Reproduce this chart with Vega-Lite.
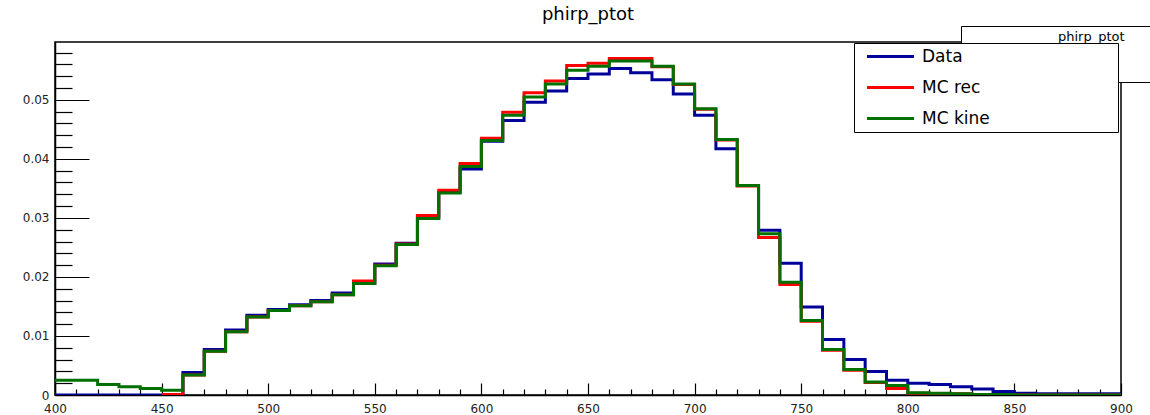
{
  "$schema": "https://vega.github.io/schema/vega-lite/v6.json",
  "width": 1066,
  "height": 353,
  "autosize": {"type": "none"},
  "padding": {"left": 55, "top": 42, "right": 29, "bottom": 20},
  "background": "white",
  "title": {"text": "phirp_ptot", "font": "DejaVu Sans", "fontSize": 18, "fontWeight": "normal", "color": "#000", "anchor": "middle", "offset": 2, "frame": "group"},
  "config": {"view": {"stroke": "#000", "strokeWidth": 1.5}},
  "data": {"values": [
    {"s":"Data","x":400,"y":0},{"s":"Data","x":410,"y":0},{"s":"Data","x":420,"y":0},{"s":"Data","x":430,"y":0},{"s":"Data","x":440,"y":0},
    {"s":"Data","x":450,"y":0},{"s":"Data","x":460,"y":0.0038},{"s":"Data","x":470,"y":0.0077},{"s":"Data","x":480,"y":0.0110},{"s":"Data","x":490,"y":0.0135},
    {"s":"Data","x":500,"y":0.0145},{"s":"Data","x":510,"y":0.0153},{"s":"Data","x":520,"y":0.0160},{"s":"Data","x":530,"y":0.0173},{"s":"Data","x":540,"y":0.0189},
    {"s":"Data","x":550,"y":0.0222},{"s":"Data","x":560,"y":0.0257},{"s":"Data","x":570,"y":0.0300},{"s":"Data","x":580,"y":0.0343},{"s":"Data","x":590,"y":0.0383},
    {"s":"Data","x":600,"y":0.0430},{"s":"Data","x":610,"y":0.0465},{"s":"Data","x":620,"y":0.0496},{"s":"Data","x":630,"y":0.0515},{"s":"Data","x":640,"y":0.0536},
    {"s":"Data","x":650,"y":0.0544},{"s":"Data","x":660,"y":0.0553},{"s":"Data","x":670,"y":0.0546},{"s":"Data","x":680,"y":0.0534},{"s":"Data","x":690,"y":0.0510},
    {"s":"Data","x":700,"y":0.0474},{"s":"Data","x":710,"y":0.0417},{"s":"Data","x":720,"y":0.0355},{"s":"Data","x":730,"y":0.0279},{"s":"Data","x":740,"y":0.0223},
    {"s":"Data","x":750,"y":0.0149},{"s":"Data","x":760,"y":0.0094},{"s":"Data","x":770,"y":0.0060},{"s":"Data","x":780,"y":0.0040},{"s":"Data","x":790,"y":0.0025},
    {"s":"Data","x":800,"y":0.0020},{"s":"Data","x":810,"y":0.0018},{"s":"Data","x":820,"y":0.0014},{"s":"Data","x":830,"y":0.0010},{"s":"Data","x":840,"y":0.0006},
    {"s":"Data","x":850,"y":0.0003},{"s":"Data","x":860,"y":0.0002},{"s":"Data","x":870,"y":0.0002},{"s":"Data","x":880,"y":0.0002},{"s":"Data","x":890,"y":0.0002},
    {"s":"Data","x":900,"y":0.0002},
    {"s":"MC rec","x":450,"y":0.0001},{"s":"MC rec","x":460,"y":0.0034},{"s":"MC rec","x":470,"y":0.0074},{"s":"MC rec","x":480,"y":0.0107},{"s":"MC rec","x":490,"y":0.0132},
    {"s":"MC rec","x":500,"y":0.0143},{"s":"MC rec","x":510,"y":0.0151},{"s":"MC rec","x":520,"y":0.0158},{"s":"MC rec","x":530,"y":0.0170},{"s":"MC rec","x":540,"y":0.0193},
    {"s":"MC rec","x":550,"y":0.0220},{"s":"MC rec","x":560,"y":0.0256},{"s":"MC rec","x":570,"y":0.0304},{"s":"MC rec","x":580,"y":0.0347},{"s":"MC rec","x":590,"y":0.0392},
    {"s":"MC rec","x":600,"y":0.0435},{"s":"MC rec","x":610,"y":0.0479},{"s":"MC rec","x":620,"y":0.0512},{"s":"MC rec","x":630,"y":0.0532},{"s":"MC rec","x":640,"y":0.0558},
    {"s":"MC rec","x":650,"y":0.0562},{"s":"MC rec","x":660,"y":0.0570},{"s":"MC rec","x":670,"y":0.0570},{"s":"MC rec","x":680,"y":0.0556},{"s":"MC rec","x":690,"y":0.0526},
    {"s":"MC rec","x":700,"y":0.0484},{"s":"MC rec","x":710,"y":0.0432},{"s":"MC rec","x":720,"y":0.0354},{"s":"MC rec","x":730,"y":0.0267},{"s":"MC rec","x":740,"y":0.0187},
    {"s":"MC rec","x":750,"y":0.0125},{"s":"MC rec","x":760,"y":0.0076},{"s":"MC rec","x":770,"y":0.0042},{"s":"MC rec","x":780,"y":0.0021},{"s":"MC rec","x":790,"y":0.0011},
    {"s":"MC rec","x":800,"y":0.0003},{"s":"MC rec","x":810,"y":0.0002},{"s":"MC rec","x":820,"y":0.0002},{"s":"MC rec","x":830,"y":0.0001},{"s":"MC rec","x":840,"y":0.0001},
    {"s":"MC rec","x":850,"y":0},{"s":"MC rec","x":860,"y":0},{"s":"MC rec","x":870,"y":0},{"s":"MC rec","x":880,"y":0},{"s":"MC rec","x":890,"y":0},
    {"s":"MC rec","x":900,"y":0},
    {"s":"MC kine","x":400,"y":0.0025},{"s":"MC kine","x":410,"y":0.0025},{"s":"MC kine","x":420,"y":0.0018},{"s":"MC kine","x":430,"y":0.0014},{"s":"MC kine","x":440,"y":0.0011},
    {"s":"MC kine","x":450,"y":0.0008},{"s":"MC kine","x":460,"y":0.0034},{"s":"MC kine","x":470,"y":0.0074},{"s":"MC kine","x":480,"y":0.0107},{"s":"MC kine","x":490,"y":0.0132},
    {"s":"MC kine","x":500,"y":0.0143},{"s":"MC kine","x":510,"y":0.0151},{"s":"MC kine","x":520,"y":0.0158},{"s":"MC kine","x":530,"y":0.0170},{"s":"MC kine","x":540,"y":0.0189},
    {"s":"MC kine","x":550,"y":0.0219},{"s":"MC kine","x":560,"y":0.0255},{"s":"MC kine","x":570,"y":0.0299},{"s":"MC kine","x":580,"y":0.0342},{"s":"MC kine","x":590,"y":0.0387},
    {"s":"MC kine","x":600,"y":0.0431},{"s":"MC kine","x":610,"y":0.0474},{"s":"MC kine","x":620,"y":0.0505},{"s":"MC kine","x":630,"y":0.0527},{"s":"MC kine","x":640,"y":0.0550},
    {"s":"MC kine","x":650,"y":0.0557},{"s":"MC kine","x":660,"y":0.0566},{"s":"MC kine","x":670,"y":0.0566},{"s":"MC kine","x":680,"y":0.0557},{"s":"MC kine","x":690,"y":0.0527},
    {"s":"MC kine","x":700,"y":0.0485},{"s":"MC kine","x":710,"y":0.0433},{"s":"MC kine","x":720,"y":0.0355},{"s":"MC kine","x":730,"y":0.0273},{"s":"MC kine","x":740,"y":0.0191},
    {"s":"MC kine","x":750,"y":0.0126},{"s":"MC kine","x":760,"y":0.0077},{"s":"MC kine","x":770,"y":0.0043},{"s":"MC kine","x":780,"y":0.0022},{"s":"MC kine","x":790,"y":0.0016},
    {"s":"MC kine","x":800,"y":0.0004},{"s":"MC kine","x":810,"y":0.0003},{"s":"MC kine","x":820,"y":0.0002},{"s":"MC kine","x":830,"y":0.0001},{"s":"MC kine","x":840,"y":0.0001},
    {"s":"MC kine","x":850,"y":0},{"s":"MC kine","x":860,"y":0},{"s":"MC kine","x":870,"y":0},{"s":"MC kine","x":880,"y":0},{"s":"MC kine","x":890,"y":0},
    {"s":"MC kine","x":900,"y":0}
  ]},
  "mark": {"type": "line", "interpolate": "step-after", "strokeWidth": 3, "clip": true},
  "encoding": {
    "x": {
      "field": "x", "type": "quantitative",
      "scale": {"domain": [400, 900], "nice": false, "zero": false},
      "axis": {
        "title": null, "grid": false,
        "values": [400,410,420,430,440,450,460,470,480,490,500,510,520,530,540,550,560,570,580,590,600,610,620,630,640,650,660,670,680,690,700,710,720,730,740,750,760,770,780,790,800,810,820,830,840,850,860,870,880,890,900],
        "tickSize": {"condition": {"test": "datum.value % 50 === 0", "value": -12}, "value": -6},
        "labelExpr": "datum.value % 50 === 0 ? datum.label : ''",
        "labelPadding": 20, "labelFont": "DejaVu Sans", "labelFontSize": 12, "labelColor": "#222",
        "labelFlush": false, "labelOverlap": false, "labelBound": false,
        "tickColor": "#000", "tickWidth": 1.2, "domainColor": "#000", "domainWidth": 1.5
      }
    },
    "y": {
      "field": "y", "type": "quantitative",
      "scale": {"domain": [0, 0.0598], "nice": false, "zero": true},
      "axis": {
        "title": null, "grid": false,
        "values": [0,0.002,0.004,0.006,0.008,0.01,0.012,0.014,0.016,0.018,0.02,0.022,0.024,0.026,0.028,0.03,0.032,0.034,0.036,0.038,0.04,0.042,0.044,0.046,0.048,0.05,0.052,0.054,0.056,0.058],
        "tickSize": {"condition": {"test": "abs(datum.value*100 - round(datum.value*100)) < 0.000001", "value": -34}, "value": -17},
        "labelExpr": "abs(datum.value*100 - round(datum.value*100)) < 0.000001 ? (datum.value === 0 ? '0' : format(datum.value, '.2f')) : ''",
        "labelPadding": 40, "labelFont": "DejaVu Sans", "labelFontSize": 12, "labelColor": "#222",
        "labelFlush": false, "labelOverlap": false, "labelBound": false,
        "tickColor": "#000", "tickWidth": 1.2, "domainColor": "#000", "domainWidth": 1.5
      }
    },
    "color": {
      "field": "s", "type": "nominal",
      "scale": {"domain": ["Data", "MC rec", "MC kine"], "range": ["#00009a", "#ff0000", "#007000"]},
      "legend": {
        "orient": "none", "legendX": 799, "legendY": 1, "title": null,
        "fillColor": "white", "strokeColor": "#000", "padding": 5,
        "symbolType": "M-4.7,0H4.7M43.2,0", "symbolSize": 100, "symbolStrokeWidth": 3,
        "symbolOffset": 23, "labelOffset": 23,
        "labelFont": "DejaVu Sans", "labelFontSize": 17, "labelColor": "#000",
        "rowPadding": 13, "labelLimit": 600,
        "zindex": 2
      }
    },
    "strokeDash": {
      "datum": "phirp_ptot",
      "scale": {"range": [[1, 0]]},
      "legend": {
        "orient": "none", "legendX": 906, "legendY": -16, "title": null,
        "fillColor": "white", "strokeColor": "#000", "padding": 2,
        "symbolType": "M-1,0M34,0M0,5.8", "symbolSize": 225, "symbolOpacity": 0,
        "labelFont": "DejaVu Sans", "labelFontSize": 13, "labelColor": "#000", "labelOffset": 78,
        "zindex": 1
      }
    }
  }
}
